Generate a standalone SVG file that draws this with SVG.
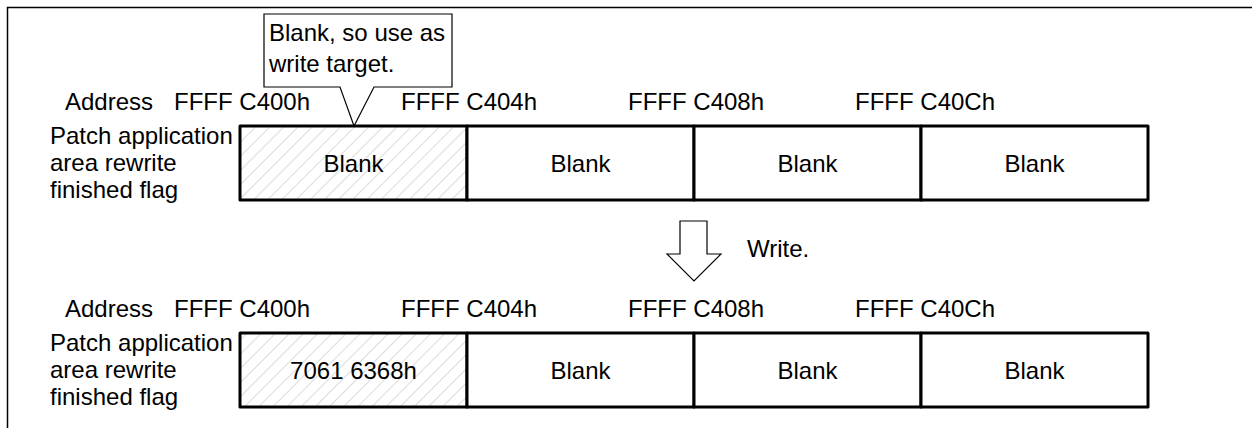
<svg xmlns="http://www.w3.org/2000/svg" width="1252" height="428" viewBox="0 0 1252 428">
<style>
text{font-family:"Liberation Sans",Arial,sans-serif;font-size:24px;fill:#000}
.c{text-anchor:middle}
.cell{fill:#fff;stroke:#000;stroke-width:3;stroke-linejoin:round}
.hat{fill:url(#hatch);stroke:#000;stroke-width:3;stroke-linejoin:round}
.thin{fill:#fff;stroke:#000;stroke-width:1.2}
</style>
<defs>
<pattern id="hatch" patternUnits="userSpaceOnUse" width="10" height="10" patternTransform="rotate(45)">
<rect width="10" height="10" fill="#fff"/>
<line x1="0" y1="0" x2="0" y2="10" stroke="#b0b0b0" stroke-width="0.9"/>
</pattern>
</defs>
<g id="frame">
<path d="M7.5 428 V7.5 H1252" fill="none" stroke="#000" stroke-width="1.5"/>
</g>
<g id="callout">
<path class="thin" d="M264 14 H452 V87 H374 L354 126 L340 87 H264 Z"/>
<text x="269" y="41">Blank, so use as</text>
<text x="269" y="72">write target.</text>
</g>
<g id="row1">
<text x="65" y="110">Address</text>
<text x="174" y="110">FFFF C400h</text>
<text x="401" y="110">FFFF C404h</text>
<text x="628" y="110">FFFF C408h</text>
<text x="855" y="110">FFFF C40Ch</text>
<text x="50" y="144">Patch application</text>
<text x="50" y="171">area rewrite</text>
<text x="50" y="198">finished flag</text>
<g id="r1c1"><rect class="hat" x="240" y="126" width="227" height="74"/><text class="c" x="353.5" y="171.5">Blank</text></g>
<g id="r1c2"><rect class="cell" x="467" y="126" width="227" height="74"/><text class="c" x="580.5" y="171.5">Blank</text></g>
<g id="r1c3"><rect class="cell" x="694" y="126" width="227" height="74"/><text class="c" x="807.5" y="171.5">Blank</text></g>
<g id="r1c4"><rect class="cell" x="921" y="126" width="227" height="74"/><text class="c" x="1034.5" y="171.5">Blank</text></g>
</g>
<g id="connectors">
<path class="thin" d="M680 221 H707 V254 H721 L694 281 L667 254 H680 Z"/>
<text x="747" y="257">Write.</text>
</g>
<g id="row2">
<text x="65" y="317">Address</text>
<text x="174" y="317">FFFF C400h</text>
<text x="401" y="317">FFFF C404h</text>
<text x="628" y="317">FFFF C408h</text>
<text x="855" y="317">FFFF C40Ch</text>
<text x="50" y="351">Patch application</text>
<text x="50" y="378">area rewrite</text>
<text x="50" y="405">finished flag</text>
<g id="r2c1"><rect class="hat" x="240" y="333" width="227" height="74"/><text class="c" x="353.5" y="378.5">7061 6368h</text></g>
<g id="r2c2"><rect class="cell" x="467" y="333" width="227" height="74"/><text class="c" x="580.5" y="378.5">Blank</text></g>
<g id="r2c3"><rect class="cell" x="694" y="333" width="227" height="74"/><text class="c" x="807.5" y="378.5">Blank</text></g>
<g id="r2c4"><rect class="cell" x="921" y="333" width="227" height="74"/><text class="c" x="1034.5" y="378.5">Blank</text></g>
</g>
</svg>
